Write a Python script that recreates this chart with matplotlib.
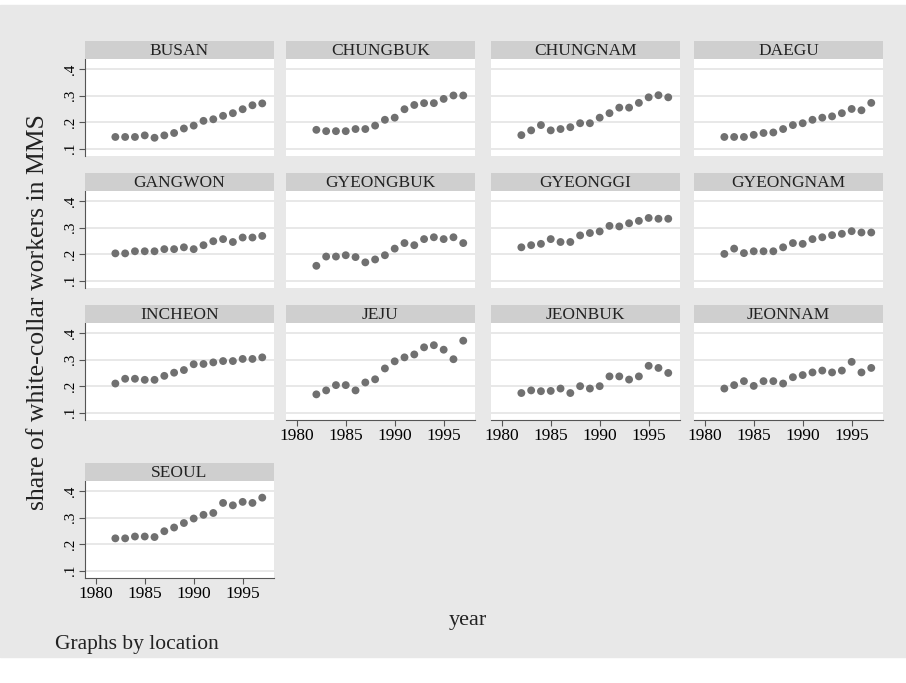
import matplotlib.pyplot as plt
import matplotlib.patches as patches

plt.rcParams['font.family'] = ['Liberation Serif', 'DejaVu Serif']

years = list(range(1982, 1998))

busan = [0.144, 0.144, 0.144, 0.150, 0.141, 0.150, 0.159, 0.176, 0.187, 0.205, 0.211, 0.224, 0.234, 0.249, 0.264, 0.271]
chungbuk = [0.171, 0.166, 0.166, 0.166, 0.174, 0.174, 0.187, 0.209, 0.217, 0.249, 0.265, 0.272, 0.272, 0.288, 0.301, 0.301]
chungnam = [0.151, 0.169, 0.189, 0.169, 0.174, 0.181, 0.196, 0.196, 0.217, 0.234, 0.255, 0.255, 0.273, 0.294, 0.302, 0.294]
daegu = [0.144, 0.144, 0.144, 0.152, 0.159, 0.161, 0.174, 0.189, 0.196, 0.209, 0.217, 0.222, 0.234, 0.250, 0.245, 0.273]
gangwon = [0.203, 0.203, 0.211, 0.211, 0.211, 0.219, 0.219, 0.226, 0.219, 0.234, 0.249, 0.257, 0.246, 0.263, 0.263, 0.269]
gyeongbuk = [0.156, 0.191, 0.191, 0.196, 0.189, 0.169, 0.180, 0.196, 0.221, 0.242, 0.234, 0.257, 0.264, 0.257, 0.264, 0.242]
gyeonggi = [0.226, 0.234, 0.239, 0.257, 0.246, 0.246, 0.271, 0.280, 0.286, 0.307, 0.305, 0.317, 0.326, 0.337, 0.334, 0.334]
gyeongnam = [0.201, 0.221, 0.204, 0.211, 0.211, 0.211, 0.226, 0.242, 0.239, 0.257, 0.264, 0.272, 0.277, 0.287, 0.282, 0.282]
incheon = [0.210, 0.228, 0.228, 0.224, 0.224, 0.239, 0.251, 0.261, 0.283, 0.284, 0.290, 0.295, 0.295, 0.303, 0.303, 0.309]
jeju = [0.169, 0.184, 0.204, 0.204, 0.184, 0.214, 0.226, 0.267, 0.294, 0.309, 0.320, 0.347, 0.355, 0.338, 0.302, 0.372]
jeonbuk = [0.174, 0.184, 0.181, 0.182, 0.191, 0.174, 0.200, 0.191, 0.200, 0.237, 0.237, 0.225, 0.237, 0.277, 0.269, 0.250]
jeonnam = [0.191, 0.204, 0.219, 0.201, 0.219, 0.219, 0.210, 0.234, 0.242, 0.252, 0.259, 0.252, 0.259, 0.292, 0.252, 0.269]
seoul = [0.222, 0.222, 0.229, 0.229, 0.227, 0.249, 0.263, 0.280, 0.297, 0.311, 0.318, 0.356, 0.347, 0.360, 0.356, 0.376]

locations = ['BUSAN', 'CHUNGBUK', 'CHUNGNAM', 'DAEGU', 'GANGWON', 'GYEONGBUK', 'GYEONGGI',
             'GYEONGNAM', 'INCHEON', 'JEJU', 'JEONBUK', 'JEONNAM', 'SEOUL']
series = [busan, chungbuk, chungnam, daegu, gangwon, gyeongbuk, gyeonggi,
          gyeongnam, incheon, jeju, jeonbuk, jeonnam, seoul]

yticks = [0.1, 0.2, 0.3, 0.4]
ytick_labels = ['.1', '.2', '.3', '.4']
xticks = [1980, 1985, 1990, 1995]

W, H = 906, 683
fig = plt.figure(figsize=(W / 100, H / 100), dpi=100)
fig.patch.set_facecolor('white')
fig.patches.append(patches.Rectangle((0, 1 - 657 / H), 1, (657 - 5) / H,
                                     transform=fig.transFigure, color='#e8e8e8', zorder=-5))

col_left = [85, 286, 491, 694]
row_top = [59, 191, 323, 481]
pw, ph, sh = 189, 97, 18


def px_axes(l, t, w, h):
    return fig.add_axes([l / W, 1 - (t + h) / H, w / W, h / H])


for i, (name, vals) in enumerate(zip(locations, series)):
    r, c = divmod(i, 4)
    ax = px_axes(col_left[c], row_top[r], pw, ph)
    ax.set_facecolor('white')
    ax.scatter(years, vals, s=32, color='#707070', edgecolors='none', zorder=3)
    ax.set_xlim(1978.9, 1998.2)
    ax.set_ylim(0.072, 0.439)
    ax.set_yticks(yticks)
    ax.set_xticks(xticks)
    for y in yticks:
        ax.axhline(y, color='#e4e4e4', lw=1.2, zorder=1)
    for s in ax.spines.values():
        s.set_visible(False)

    show_x = (r == 2 and c > 0) or r == 3
    show_y = c == 0
    if show_y:
        ax.spines['left'].set_visible(True)
        ax.spines['left'].set_color('#555555')
        ax.set_yticklabels(ytick_labels, rotation=90, va='center', fontsize=11)
        ax.tick_params(axis='y', length=4, color='#555555', pad=2)
    else:
        ax.tick_params(axis='y', left=False, labelleft=False)
    if show_x:
        ax.spines['bottom'].set_visible(True)
        ax.spines['bottom'].set_color('#555555')
        ax.set_xticklabels([str(x) for x in xticks], fontsize=12.5)
        ax.tick_params(axis='x', length=4, color='#555555', pad=2)
    else:
        ax.tick_params(axis='x', bottom=False, labelbottom=False)

    sax = px_axes(col_left[c], row_top[r] - sh, pw, sh)
    sax.set_facecolor('#cfcfcf')
    sax.set_xticks([])
    sax.set_yticks([])
    for s in sax.spines.values():
        s.set_visible(False)
    sax.text(0.5, 0.45, name, ha='center', va='center', fontsize=12.5, color='#222222',
             transform=sax.transAxes)

fig.text(38 / W, 1 - 312 / H, 'share of white-collar workers in MMS', rotation=90,
         ha='center', va='center', fontsize=18.5, color='#222222')
fig.text(468 / W, 1 - 620 / H, 'year', ha='center', va='center', fontsize=16, color='#222222')
fig.text(55 / W, 1 - 645 / H, 'Graphs by location', ha='left', va='center', fontsize=15.5,
         color='#222222')

fig.savefig('out.png', dpi=100, facecolor=fig.get_facecolor())
